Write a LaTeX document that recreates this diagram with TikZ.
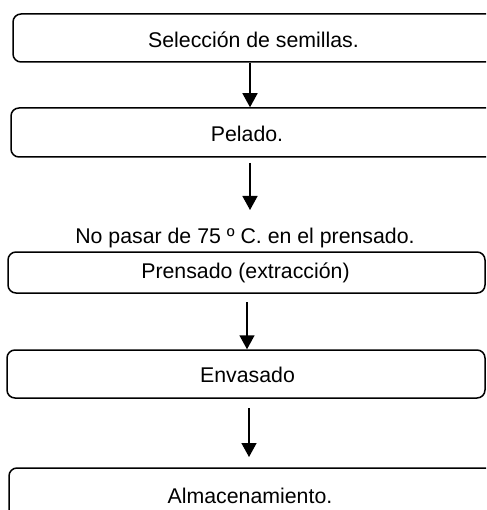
\documentclass[tikz,border=0pt]{standalone}
\usepackage{fontspec}
\setmainfont{Liberation Sans}
\usetikzlibrary{arrows.meta}
\begin{document}
\begin{tikzpicture}[x=1pt,y=-1pt,
  stepbox/.style={draw=black,line width=1.5pt,rounded corners=8pt,inner sep=0pt},
  lbl/.style={inner sep=0pt,font=\fontsize{21.3}{25}\selectfont},
  arr/.style={line width=1.5pt,-{Triangle[width=15pt,length=14pt]}}]
\useasboundingbox (0,0) rectangle (486,510);
\clip (0,0) rectangle (486,510);
\fill[white] (0,0) rectangle (486,510);
% boxes
\node[stepbox,minimum width=487pt,minimum height=48pt] (b1) at (256.5,38) {};
\node[stepbox,minimum width=489pt,minimum height=49pt] (b2) at (255.5,132.5) {};
\node[stepbox,minimum width=477pt,minimum height=41pt] (b3) at (246.5,272.5) {};
\node[stepbox,minimum width=478pt,minimum height=48pt] (b4) at (246,374) {};
\node[stepbox,minimum width=491pt,minimum height=62pt] (b5) at (254.5,499) {};
% texts
\node[lbl] (t1) at (253.5,40) {Selección de semillas.};
\node[lbl] (t2) at (247,134) {Pelado.};
\node[lbl] (n3) at (245,238) {No pasar de 75 º C. en el prensado.};
\node[lbl] (t3) at (245.5,273) {Prensado (extracción)};
\node[lbl] (t4) at (247.5,375) {Envasado};
\node[lbl] (t5) at (250,496) {Almacenamiento.};
% connectors
\coordinate (a2s) at (250,163);
\coordinate (a2e) at (250,210);
\coordinate (a3s) at (247,302);
\coordinate (a4s) at (249,408);
\coordinate (a4e) at (249,457);
\draw[arr] (250,0 |- b1.south) -- (250,0 |- b2.north);
\draw[arr] (a2s) -- (a2e);
\draw[arr] (a3s) -- (247,0 |- b4.north);
\draw[arr] (a4s) -- (a4e);
\end{tikzpicture}
\end{document}
